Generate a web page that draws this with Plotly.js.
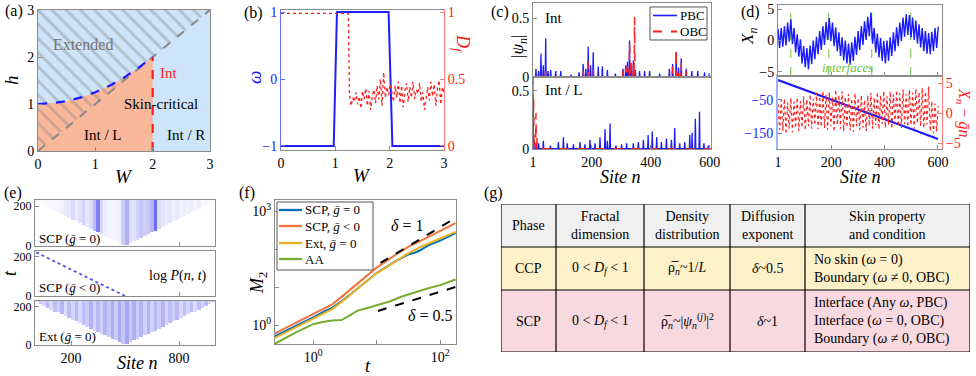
<!DOCTYPE html>
<html>
<head>
<meta charset="utf-8">
<script src="https://cdn.plot.ly/plotly-3.0.1.min.js"></script>
<style>body{margin:0;background:#fff;} #plot{width:976px;height:376px;}</style>
</head>
<body>
<div id="plot"></div>
<script>
// ---------- (a) phase diagram ----------
var phaseRange = [0, 3];
var phaseCurveW = [0, 0.25, 0.5, 0.75, 1, 1.25, 1.5, 1.75, 2];
var phaseCurveH = [1, 1.02, 1.06, 1.14, 1.25, 1.39, 1.56, 1.77, 2];
var diagW = [0, 3], diagH = [0, 3];
var critW = [2, 2], critH = [0, 2];

// ---------- (b) omega and D_f vs W ----------
var omegaW = [0, 0.97, 1.03, 1.98, 2.05, 3];
var omegaVal = [-1, -1, 1, 1, -1, -1];
var dfW = [0, 0.5, 1.0, 1.24, 1.26, 1.29, 1.32, 1.35, 1.38, 1.41, 1.44, 1.47, 1.50, 1.53, 1.56, 1.59,
  1.62, 1.65, 1.68, 1.71, 1.74, 1.77, 1.80, 1.83, 1.86, 1.89, 1.92, 1.95, 1.98, 2.01, 2.04, 2.07,
  2.10, 2.13, 2.16, 2.19, 2.22, 2.25, 2.28, 2.31, 2.34, 2.37, 2.40, 2.43, 2.46, 2.49, 2.52, 2.55,
  2.58, 2.61, 2.64, 2.67, 2.70, 2.73, 2.76, 2.79, 2.82, 2.85, 2.88, 2.91, 2.94, 2.97, 3.0];
var dfVal = [0.99, 0.99, 0.99, 0.99, 0.38, 0.30, 0.36, 0.33, 0.40, 0.31, 0.37, 0.28, 0.41, 0.35, 0.43, 0.30,
  0.41, 0.27, 0.38, 0.42, 0.32, 0.45, 0.35, 0.50, 0.30, 0.55, 0.36, 0.44, 0.38, 0.46, 0.40, 0.33,
  0.45, 0.36, 0.48, 0.32, 0.45, 0.29, 0.41, 0.47, 0.33, 0.44, 0.36, 0.48, 0.35, 0.42, 0.39, 0.47,
  0.33, 0.40, 0.27, 0.38, 0.44, 0.34, 0.48, 0.37, 0.46, 0.30, 0.43, 0.49, 0.31, 0.44, 0.40];

// ---------- (c) |psi_n| peaks ----------
var cTopPbcN = [11, 20, 28, 36, 44, 52, 61, 78, 95, 130, 157, 171, 180, 188, 196, 205, 222, 236, 253, 280,
  306, 315, 321, 328, 333, 341, 348, 362, 379, 396, 430, 463, 474, 486, 494, 503, 520, 539, 559, 582, 598];
var cTopPbcH = [0.07, 0.05, 0.20, 0.10, 0.33, 0.05, 0.06, 0.05, 0.05, 0.02, 0.04, 0.11, 0.07, 0.26, 0.10, 0.21, 0.09, 0.09, 0.06, 0.03,
  0.07, 0.10, 0.13, 0.31, 0.12, 0.14, 0.06, 0.05, 0.05, 0.05, 0.03, 0.07, 0.11, 0.21, 0.08, 0.16, 0.07, 0.05, 0.05, 0.04, 0.03];
var cTopObcN = [28, 44, 171, 188, 205, 306, 315, 321, 328, 333, 341, 345, 362, 474, 486, 494, 503, 520];
var cTopObcH = [0.04, 0.05, 0.05, 0.13, 0.07, 0.05, 0.08, 0.10, 0.29, 0.10, 0.12, 0.51, 0.04, 0.09, 0.24, 0.07, 0.12, 0.05];
var cBotPbcN = [3, 12, 20, 36, 60, 87, 104, 117, 138, 160, 177, 194, 211, 228, 245, 253, 262, 282, 301, 318,
  341, 358, 375, 391, 405, 420, 436, 453, 470, 481, 498, 515, 532, 540, 551, 565, 580, 595];
var cBotPbcH = [0.08, 0.04, 0.05, 0.07, 0.03, 0.06, 0.10, 0.05, 0.04, 0.06, 0.04, 0.08, 0.05, 0.10, 0.17, 0.07, 0.22, 0.03, 0.04, 0.05,
  0.05, 0.06, 0.08, 0.12, 0.15, 0.10, 0.06, 0.09, 0.08, 0.18, 0.05, 0.06, 0.12, 0.14, 0.26, 0.32, 0.05, 0.03];
var cBotObcN = [1, 3, 5, 8, 11, 14, 18];
var cBotObcH = [0.62, 0.45, 0.08, 0.05, 0.31, 0.10, 0.02];

// ---------- (d) centre of mass X_n ----------
var dXn = [1.9, -1.2, 2.0, -1.0, 2.3, -0.8, 2.9, -0.2, 3.4, -0.6, 2.0, -1.9, 1.0, -2.6, 0.2, -3.7, -0.9, -4.3, -1.2, -4.6,
  -0.8, -3.8, 0.0, -3.0, 0.6, -2.2, 1.5, -1.5, 2.3, -0.7, 3.0, 0.1, 3.6, -0.1, 2.9, -0.9, 2.1, -1.7, 1.3, -2.5,
  0.5, -3.2, 0.0, -3.7, -0.5, -3.9, -0.3, -3.3, 0.6, -2.3, 1.5, -1.5, 2.3, -0.7, 3.1, 0.1, 3.8, 0.7, 4.5, -0.5,
  2.0, -1.9, 1.1, -2.7, 0.4, -3.3, -0.1, -3.7, 0.0, -3.3, 0.5, -2.5, 1.3, -1.7, 2.1, -0.9, 2.9, -0.1, 3.7, 0.6,
  4.2, 0.9, 4.1, 0.5, 3.7, 0.1, 3.2, -0.5, 2.6, -1.1, 2.0, -1.7, 1.5, -2.1, 1.2, -2.2, 1.4, -1.7, 2.0, -1.2, 2.2];
var dDev = [1.5, -2.8, 2.2, -3.0, 2.4, -3.5, 1.8, -2.6, 2.5, -3.2, 1.9, -2.5, 2.6, -3.0, 2.0, -2.4, 2.8, -2.9, 2.3, -2.2,
  3.1, -2.6, 2.4, -2.0, 3.4, -2.7, 2.8, -2.3, 3.7, -2.5, 3.0, -2.8, 3.5, -2.2, 2.6, -3.1, 3.9, -2.0, 3.0, -2.6,
  3.6, -3.0, 2.7, -2.4, 3.2, -2.9, 2.4, -3.1, 3.3, -2.2, 2.5, -2.8, 3.0, -2.4, 2.2, -3.0, 2.9, -2.1, 3.4, -2.6,
  2.6, -2.0, 3.5, -2.7, 3.0, -1.8, 3.7, -2.4, 2.8, -2.0, 3.6, -2.6, 3.1, -1.7, 3.8, -2.2, 3.3, -2.5, 4.0, -1.8,
  3.2, -2.3, 3.9, -2.0, 3.4, -2.6, 4.1, -1.7, 3.5, -2.2, 4.2, -2.5, 3.6, -1.9, 4.4, -3.0, 2.0, -3.4, 1.6, -3.1, 1.2];
var dLineN = [1, 100, 200, 300, 400, 500, 600];
var dLineX = [10, -19, -48, -78, -108, -138, -168];
var interfacesN = [49, 191, 352, 498];

// ---------- (e) log P(n,t) column intensities ----------
var eScpCols = [0.02, 0.02, 0.03, 0.03, 0.04, 0.04, 0.05, 0.06, 0.10, 0.13, 0.18, 0.10, 0.16, 0.22, 0.12, 0.18, 0.35, 0.65, 0.20, 0.10,
  0.06, 0.05, 0.06, 0.08, 0.25, 0.40, 0.18, 0.16, 0.22, 0.30, 0.24, 0.28, 0.38, 0.75, 0.18, 0.14, 0.10, 0.13, 0.08, 0.12,
  0.07, 0.10, 0.07, 0.09, 0.05, 0.08, 0.04, 0.06, 0.03, 0.03];
var eExtCols = [0.18, 0.32, 0.22, 0.36, 0.20, 0.34, 0.24, 0.38, 0.18, 0.33, 0.22, 0.36, 0.20, 0.34, 0.26, 0.40, 0.22, 0.36, 0.24, 0.38,
  0.28, 0.42, 0.26, 0.44, 0.30, 0.46, 0.28, 0.42, 0.26, 0.38, 0.24, 0.40, 0.22, 0.36, 0.26, 0.38, 0.21, 0.34, 0.24, 0.36,
  0.20, 0.32, 0.22, 0.34, 0.18, 0.32, 0.21, 0.33, 0.18, 0.30];
var eFrontSpeed = 2.2;
var eSkinN = [500, 0], eSkinT = [0, 226];

// ---------- (f) M_2(t) ----------
var tSCP0 = [0.25, 0.5, 1, 1.55, 2, 3.2, 5, 10, 20, 32, 40, 50, 65, 100, 175];
var mSCP0 = [0.51, 0.89, 1.58, 2.34, 2.82, 5.0, 9.3, 23.4, 47.9, 72.4, 80, 95.5, 125, 166, 263];
var tSCPneg = [0.25, 0.5, 1, 1.55, 2, 3.2, 5, 10, 20, 32, 50, 100, 175];
var mSCPneg = [0.60, 1.07, 1.91, 2.75, 3.47, 6.6, 12.6, 32.4, 70.8, 115, 166, 295, 479];
var tExt = [0.25, 0.5, 1, 1.55, 2, 3.2, 5, 10, 20, 32, 50, 100, 175];
var mExt = [0.46, 0.81, 1.48, 2.14, 2.63, 4.79, 9.12, 22.9, 47.9, 77.6, 115, 186, 282];
var tAA = [0.25, 0.5, 1, 1.4, 2, 2.8, 3.5, 5, 7, 10, 16, 25, 40, 63, 100, 175];
var mAA = [0.32, 0.60, 1.05, 1.20, 1.32, 1.35, 1.66, 2.40, 2.75, 3.31, 4.17, 5.62, 7.24, 9.12, 11.2, 15.8];
var tSlope1 = [11.5, 175], mSlope1 = [43, 660];
var tSlope05 = [10.5, 175], mSlope05 = [2.34, 10];

// ---------- (g) table ----------
var tableHeader = ["Phase", "Fractal<br>dimension", "Density<br>distribution", "Diffusion<br>exponent", "Skin property<br>and condition"];
var tableCCP = ["CCP", "0 &lt; <i>D<sub>f</sub></i> &lt; 1", "ρ̅<sub><i>n</i></sub>~1/<i>L</i>", "<i>δ</i>~0.5",
  "No skin (<i>ω</i> = 0)<br>Boundary (<i>ω</i> ≠ 0, OBC)"];
var tableSCP = ["SCP", "0 &lt; <i>D<sub>f</sub></i> &lt; 1", "ρ̅<sub><i>n</i></sub>~|<i>ψ</i><sub><i>n</i></sub><sup>(<i>j</i>)</sup>|<sup>2</sup>", "<i>δ</i>~1",
  "Interface (Any <i>ω</i>, PBC)<br>Interface (<i>ω</i> = 0, OBC)<br>Boundary (<i>ω</i> ≠ 0, OBC)"];

// layout helpers (pixel -> paper)
var serif = "Liberation Serif";
function X(px) { return px / 976; }
function Y(py) { return 1 - py / 376; }
function dx(a, b) { return [X(a), X(b)]; }
function dy(top, bot) { return [Y(bot), Y(top)]; }

function ax(extra) {
  var o = {showline: true, linecolor: "#8c8c8c", linewidth: 1, mirror: true, ticks: "inside", ticklen: 4,
    tickcolor: "#8c8c8c", showgrid: false, zeroline: false, fixedrange: true,
    tickfont: {family: serif, size: 14, color: "#000"}};
  for (var k in extra) o[k] = extra[k];
  return o;
}

// build thin spikes from peak lists
function spikes(ns, hs) {
  var x = [1], y = [0];
  ns.forEach(function(n, i) { x.push(n - 1.5, n, n + 1.5); y.push(0.003, hs[i], 0.003); });
  x.push(610); y.push(0);
  return {x: x, y: y};
}

// sample grid for (d): one value every 6 sites
var dSites = [];
for (var s = 1; s <= 601; s += 6) dSites.push(s);

// heatmap bins for (e)
var eN = [], eT = [];
for (var j = 0; j < 50; j++) eN.push(10 + 20 * j);
for (var i = 0; i < 46; i++) eT.push(2.5 + 5 * i);
function cone(cols) {
  return eT.map(function(t) {
    return eN.map(function(n, j) { return Math.abs(n - 500) <= t * eFrontSpeed ? cols[j] : null; });
  });
}

var blueRegion = "rgb(206,228,249)";
var orangeRegion = "rgb(250,184,154)";
var eScale = [[0, "rgb(255,255,255)"], [1, "rgb(60,60,230)"]];

var traces = [];
var legendC = [], legendF = [];
function add(t, box) { t.hoverinfo = "skip"; t.showlegend = false; traces.push(t); if (box) box.push(t); }

// (a)
add({type: "scatter", mode: "lines", x: [phaseRange[0], phaseRange[1], phaseRange[1], phaseRange[0]],
  y: [phaseRange[0], phaseRange[0], phaseRange[1], phaseRange[1]], fill: "toself", fillcolor: blueRegion,
  line: {width: 0}, xaxis: "x", yaxis: "y"});
add({type: "scatter", mode: "lines", x: phaseCurveW.concat([critW[0], 0]), y: phaseCurveH.concat([0, 0]),
  fill: "toself", fillcolor: orangeRegion, line: {width: 0}, xaxis: "x", yaxis: "y"});
add({type: "scatter", mode: "lines", x: [diagW[0], diagW[1], diagW[0]], y: [diagH[0], diagH[1], diagH[1]],
  fill: "toself", fillcolor: "rgba(0,0,0,0)", line: {width: 0},
  fillpattern: {shape: "\\", fgcolor: "rgba(130,130,130,0.36)", bgcolor: "rgba(0,0,0,0)", size: 10, solidity: 0.3},
  xaxis: "x", yaxis: "y"});
add({type: "scatter", mode: "lines", x: diagW, y: diagH, line: {color: "#8a8a8a", width: 2, dash: "dash"}, xaxis: "x", yaxis: "y"});
add({type: "scatter", mode: "lines", x: phaseCurveW, y: phaseCurveH, line: {color: "#1a1aff", width: 2.2, dash: "dash"}, xaxis: "x", yaxis: "y"});
add({type: "scatter", mode: "lines", x: critW, y: critH, line: {color: "#ff1a1a", width: 2.2, dash: "dash"}, xaxis: "x", yaxis: "y"});

// (b)
add({type: "scatter", mode: "lines", x: omegaW, y: omegaVal, line: {color: "#2020ff", width: 2}, xaxis: "x2", yaxis: "y2"});
add({type: "scatter", mode: "lines", x: dfW, y: dfVal, line: {color: "#ff2020", width: 1.3, dash: "dot"}, xaxis: "x2", yaxis: "y3"});

// (c)
var s1 = spikes(cTopPbcN, cTopPbcH), s2 = spikes(cTopObcN, cTopObcH);
var s3 = spikes(cBotPbcN, cBotPbcH), s4 = spikes(cBotObcN, cBotObcH);
add({type: "scatter", mode: "lines", name: "PBC", x: s1.x, y: s1.y, line: {color: "#1a1aff", width: 1.3}, xaxis: "x3", yaxis: "y4"}, legendC);
add({type: "scatter", mode: "lines", name: "OBC", x: s2.x, y: s2.y, line: {color: "#ff2020", width: 1.5, dash: "dash"}, xaxis: "x3", yaxis: "y4"}, legendC);
add({type: "scatter", mode: "lines", x: s3.x, y: s3.y, line: {color: "#1a1aff", width: 1.3}, xaxis: "x4", yaxis: "y5"});
add({type: "scatter", mode: "lines", x: s4.x, y: s4.y, line: {color: "#ff2020", width: 1.5, dash: "dash"}, xaxis: "x4", yaxis: "y5"});

// (d)
var ifx = [], ify = [];
interfacesN.forEach(function(n) { ifx.push(n, n, null); ify.push(-5.7, 5.7, null); });
add({type: "scatter", mode: "lines", x: ifx, y: ify, line: {color: "#6cbf3c", width: 1, dash: "dash"}, xaxis: "x5", yaxis: "y6"});
add({type: "scatter", mode: "lines", x: dSites, y: dXn, line: {color: "#1a1aff", width: 1.4}, xaxis: "x5", yaxis: "y6"});
add({type: "scatter", mode: "lines", x: dSites, y: dDev, line: {color: "#ff2020", width: 1.2, dash: "dot"}, xaxis: "x6", yaxis: "y8"});
add({type: "scatter", mode: "lines", x: dLineN, y: dLineX, line: {color: "#1a1aff", width: 2.2}, xaxis: "x6", yaxis: "y7"});

// (e)
add({type: "heatmap", x: eN, y: eT, z: cone(eScpCols), colorscale: eScale, zmin: 0, zmax: 1, showscale: false, xaxis: "x7", yaxis: "y9"});
add({type: "scatter", mode: "lines", x: eSkinN, y: eSkinT, line: {color: "rgb(80,80,230)", width: 1.8, dash: "dot"}, xaxis: "x8", yaxis: "y10"});
add({type: "heatmap", x: eN, y: eT, z: cone(eExtCols), colorscale: eScale, zmin: 0, zmax: 1, showscale: false, xaxis: "x9", yaxis: "y11"});

// (f)
add({type: "scatter", mode: "lines", name: "SCP, <i>ḡ</i> = 0", x: tSCP0, y: mSCP0, line: {color: "#0072BD", width: 2}, xaxis: "x10", yaxis: "y12"}, legendF);
add({type: "scatter", mode: "lines", name: "SCP, <i>ḡ</i> &lt; 0", x: tSCPneg, y: mSCPneg, line: {color: "#F4713C", width: 2}, xaxis: "x10", yaxis: "y12"}, legendF);
add({type: "scatter", mode: "lines", name: "Ext, <i>ḡ</i> = 0", x: tExt, y: mExt, line: {color: "#EDB120", width: 2}, xaxis: "x10", yaxis: "y12"}, legendF);
add({type: "scatter", mode: "lines", name: "AA", x: tAA, y: mAA, line: {color: "#77AC30", width: 2}, xaxis: "x10", yaxis: "y12"}, legendF);
add({type: "scatter", mode: "lines", x: tSlope1, y: mSlope1, line: {color: "#000", width: 2, dash: "dash"}, xaxis: "x10", yaxis: "y12"});
add({type: "scatter", mode: "lines", x: tSlope05, y: mSlope05, line: {color: "#000", width: 2, dash: "dash"}, xaxis: "x10", yaxis: "y12"});

// (g) table drawn on its own hidden axes
var colWidths = [55, 88, 86, 75, 165];
var rowHeights = [43, 43, 62];
var rowFills = ["rgb(240,240,240)", "rgb(253,241,201)", "rgb(248,217,223)"];
var tableRows = [tableHeader, tableCCP, tableSCP];
var colStart = [0], rowStart = [0];
colWidths.forEach(function(w, k) { colStart.push(colStart[k] + w); });
rowHeights.forEach(function(h, k) { rowStart.push(rowStart[k] + h); });
var shapes = [];
var annotations = [];
tableRows.forEach(function(row, r) {
  shapes.push({type: "rect", xref: "x11", yref: "y13", x0: 0, x1: colStart[5], y0: rowStart[r], y1: rowStart[r + 1],
    fillcolor: rowFills[r], line: {width: 0}, layer: "below"});
  row.forEach(function(txt, c) {
    var left = (r > 0 && c === 4);
    annotations.push({xref: "x11", yref: "y13", x: left ? colStart[c] + 7 : colStart[c] + colWidths[c] / 2,
      y: rowStart[r] + rowHeights[r] / 2, text: txt, showarrow: false, xanchor: left ? "left" : "center",
      yanchor: "middle", align: left ? "left" : "center", font: {family: serif, size: 14, color: "#000"}});
  });
});
colStart.forEach(function(x0) {
  shapes.push({type: "line", xref: "x11", yref: "y13", x0: x0, x1: x0, y0: 0, y1: rowStart[3], line: {color: "#000", width: 1.2}});
});
rowStart.forEach(function(y0) {
  shapes.push({type: "line", xref: "x11", yref: "y13", x0: 0, x1: colStart[5], y0: y0, y1: y0, line: {color: "#000", width: 1.2}});
});

// compact MATLAB-style legend boxes (pixel box, sample line, label)
function legendBox(items, box, lineX, textX, rowY, size) {
  shapes.push({type: "rect", xref: "paper", yref: "paper", x0: X(box[0]), x1: X(box[2]), y0: Y(box[3]), y1: Y(box[1]),
    fillcolor: "#fff", line: {color: "#555", width: 1}, layer: "above"});
  items.forEach(function(t, k) {
    shapes.push({type: "line", xref: "paper", yref: "paper", x0: X(lineX[0]), x1: X(lineX[1]), y0: Y(rowY[k]), y1: Y(rowY[k]),
      line: {color: t.line.color, width: t.line.width + 0.3, dash: t.line.dash || "solid"}, layer: "above"});
    annotations.push({xref: "paper", yref: "paper", x: X(textX), y: Y(rowY[k]), text: t.name, showarrow: false,
      xanchor: "left", yanchor: "middle", font: {family: serif, size: size, color: "#000"}});
  });
}
legendBox(legendC, [650, 7, 707, 40], [653, 677], 678, [15.5, 31.5], 13);
legendBox(legendF, [277, 202, 373, 270], [279, 302], 303, [210, 226, 243, 259], 13);

// text labels
function lab(px, py, text, opt) {
  var a = {xref: "paper", yref: "paper", x: X(px), y: Y(py), text: text, showarrow: false, xanchor: "center", yanchor: "middle",
    font: {family: serif, size: 16, color: "#000"}};
  if (opt) { for (var k in opt) { if (k === "font") { for (var f in opt.font) a.font[f] = opt.font[f]; } else a[k] = opt[k]; } }
  annotations.push(a);
}
lab(14, 11, "(a)"); lab(254, 13, "(b)"); lab(500, 12, "(c)"); lab(750, 12, "(d)");
lab(13, 193, "(e)"); lab(247, 193, "(f)"); lab(493, 193, "(g)");
// (a)
lab(124, 176, "<i>W</i>", {font: {size: 19}});
lab(12, 80, "<i>h</i>", {textangle: -90, font: {size: 19}});
lab(83, 45, "Extended", {font: {size: 16, color: "#777"}});
lab(168, 73, "Int", {font: {size: 15, color: "#ff1a1a"}});
lab(161, 104, "Skin-critical", {font: {size: 15}});
lab(103, 135, "Int / L", {font: {size: 15}});
lab(186, 135, "Int / R", {font: {size: 15}});
// (b)
lab(362, 175, "<i>W</i>", {font: {size: 19}});
lab(255, 78, "<i>ω</i>", {textangle: -90, font: {size: 19, color: "#1a1aff"}});
lab(462, 43, "<i>D<sub>f</sub></i>", {textangle: 90, font: {size: 18, color: "#ff1a1a"}});
// (c)
lab(519, 47, "|<i>ψ<sub>n</sub></i>|", {textangle: -90, font: {size: 17}});
lab(553, 18, "Int", {font: {size: 15}});
lab(564, 90, "Int / L", {font: {size: 15}});
lab(620, 177, "<i>Site n</i>", {font: {size: 18}});
// (d)
lab(749, 37, "<i>X<sub>n</sub></i>", {textangle: -90, font: {size: 17}});
lab(964, 112, "<i>X<sub>n</sub></i> − <i>ḡn</i>", {textangle: 90, font: {size: 16, color: "#ff1a1a"}});
lab(847, 67, "<i>interfaces</i>", {font: {size: 13, color: "#6cbf3c"}});
lab(860, 177, "<i>Site n</i>", {font: {size: 18}});
// (e)
lab(10, 273, "<i>t</i>", {textangle: -90, font: {size: 18}});
lab(69, 239, "SCP (<i>ḡ</i> = 0)", {font: {size: 13}});
lab(69, 287, "SCP (<i>ḡ</i> &lt; 0)", {font: {size: 13}});
lab(67, 336, "Ext (<i>ḡ</i> = 0)", {font: {size: 13}});
lab(178, 276, "log <i>P</i>(<i>n</i>, <i>t</i>)", {font: {size: 14}});
lab(137, 363, "<i>Site n</i>", {font: {size: 18}});
// (f)
lab(258, 283, "<i>M</i><sub>2</sub>", {textangle: -90, font: {size: 18}});
lab(368, 366, "<i>t</i>", {font: {size: 18}});
lab(407, 225, "<i>δ</i> = 1", {font: {size: 16}});
lab(430, 315, "<i>δ</i> = 0.5", {font: {size: 16}});

var eTick = {family: serif, size: 12, color: "#000"};
var layout = {
  width: 976, height: 376, margin: {l: 0, r: 0, t: 0, b: 0},
  paper_bgcolor: "#fff", plot_bgcolor: "#fff", showlegend: false,
  font: {family: serif, size: 13, color: "#000"},
  // (a)
  xaxis: ax({domain: dx(38, 210), range: phaseRange, tickvals: [0, 1, 2, 3], anchor: "y"}),
  yaxis: ax({domain: dy(10, 151), range: phaseRange, tickvals: [0, 1, 2, 3], anchor: "x"}),
  // (b)
  xaxis2: ax({domain: dx(281, 444), range: [0, 3], tickvals: [0, 1, 2, 3], anchor: "y2"}),
  yaxis2: ax({domain: dy(10, 150), range: [-1.06, 1.03], tickvals: [-1, 0, 1], anchor: "x2", mirror: false,
    linecolor: "#6a6aff", tickcolor: "#6a6aff", tickfont: {family: serif, size: 14, color: "#1a1aff"}}),
  yaxis3: ax({overlaying: "y2", side: "right", anchor: "x2", range: [-0.03, 1.015], tickvals: [0, 0.5, 1], mirror: false,
    linecolor: "#ff7a7a", tickcolor: "#ff7a7a", tickfont: {family: serif, size: 14, color: "#ff1a1a"}}),
  // (c)
  xaxis3: ax({domain: dx(533, 711), range: [1, 604], tickvals: [1, 200, 400, 600], showticklabels: false, anchor: "y4"}),
  yaxis4: ax({domain: dy(3, 77), range: [0, 0.63], tickvals: [0, 0.5], anchor: "x3"}),
  xaxis4: ax({domain: dx(533, 711), range: [1, 604], tickvals: [1, 200, 400, 600], anchor: "y5"}),
  yaxis5: ax({domain: dy(77, 149), range: [0, 0.62], tickvals: [0, 0.5], anchor: "x4"}),
  // (d)
  xaxis5: ax({domain: dx(778, 942), range: [1, 615], tickvals: [1, 200, 400, 600], showticklabels: false, anchor: "y6"}),
  yaxis6: ax({domain: dy(5, 76), range: [-5.7, 5.7], tickvals: [-5, 0, 5], anchor: "x5"}),
  xaxis6: ax({domain: dx(778, 942), range: [1, 615], tickvals: [1, 200, 400, 600], anchor: "y7"}),
  yaxis7: ax({domain: dy(76, 149), range: [-198, 22], tickvals: [-50, -150], anchor: "x6", mirror: false,
    linecolor: "rgb(160,175,255)", linewidth: 2, tickcolor: "#6a6aff", tickfont: {family: serif, size: 14, color: "#1a1aff"}}),
  yaxis8: ax({overlaying: "y7", side: "right", anchor: "x6", range: [-6, 6.2], tickvals: [-5, 0, 5], mirror: false,
    linecolor: "#ff7a7a", tickcolor: "#ff7a7a", tickfont: {family: serif, size: 14, color: "#ff1a1a"}}),
  // (e)
  xaxis7: ax({domain: dx(35, 215), range: [0, 1000], tickvals: [200, 800], showticklabels: false, anchor: "y9"}),
  yaxis9: ax({domain: dy(200, 246), range: [0, 230], tickvals: [0, 200], anchor: "x7", tickfont: eTick}),
  xaxis8: ax({domain: dx(35, 215), range: [0, 1000], tickvals: [200, 800], showticklabels: false, anchor: "y10"}),
  yaxis10: ax({domain: dy(251, 296), range: [0, 230], tickvals: [0, 200], anchor: "x8", tickfont: eTick}),
  xaxis9: ax({domain: dx(35, 215), range: [0, 1000], tickvals: [200, 800], anchor: "y11"}),
  yaxis11: ax({domain: dy(301, 345), range: [0, 230], tickvals: [0, 200], anchor: "x9", tickfont: eTick}),
  // (f)
  xaxis10: ax({domain: dx(275, 456), type: "log", range: [-0.6, 2.25], tickvals: [1, 10, 100],
    ticktext: ["10<sup>0</sup>", "", "10<sup>2</sup>"], anchor: "y12"}),
  yaxis12: ax({domain: dy(200, 344), type: "log", range: [-0.5, 3.29], tickvals: [1, 10, 100, 1000],
    ticktext: ["10<sup>0</sup>", "", "", "10<sup>3</sup>"], anchor: "x10"}),
  // (g)
  xaxis11: {domain: dx(501, 970), range: [0, 469], visible: false, fixedrange: true, anchor: "y13"},
  yaxis13: {domain: dy(204, 352), range: [148, 0], visible: false, fixedrange: true, anchor: "x11"},
  shapes: shapes,
  annotations: annotations
};

Plotly.newPlot("plot", traces, layout, {staticPlot: true, displayModeBar: false});
</script>
</body>
</html>
